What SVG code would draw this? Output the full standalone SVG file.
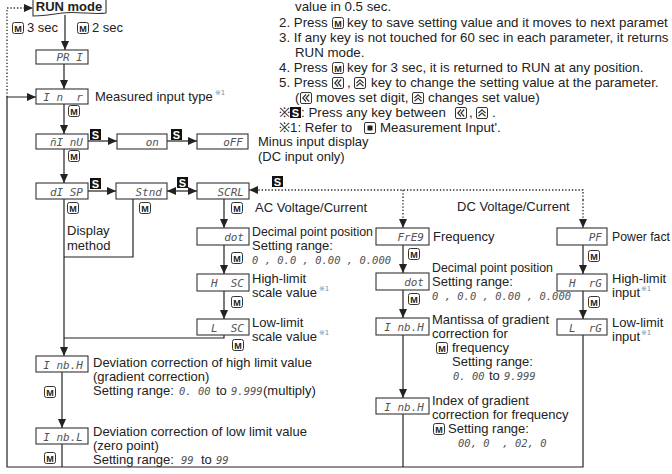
<svg xmlns="http://www.w3.org/2000/svg" xmlns:xlink="http://www.w3.org/1999/xlink" width="672" height="474" viewBox="0 0 672 474">
<style>
.bx{fill:#fff;stroke:#333;stroke-width:1.1}
.sg{font-family:"DejaVu Sans Mono",monospace;font-style:oblique;font-size:11px;fill:#555;text-anchor:end;white-space:pre}
.num{font-family:"DejaVu Sans Mono",monospace;font-style:oblique;font-size:10.5px;fill:#555;white-space:pre}
.t{font-family:"Liberation Sans",Arial,sans-serif;font-size:13px;fill:#222}
.n{font-family:"Liberation Sans",Arial,sans-serif;font-size:13.3px;fill:#222}
.sup{font-family:"DejaVu Sans","Liberation Sans",sans-serif;font-size:7px;fill:#888}
.ln{stroke:#222;stroke-width:1.2;fill:none}
.dt{stroke:#222;stroke-width:1.3;stroke-dasharray:1.3 2;fill:none}
.kt{font-family:"Liberation Sans",Arial,sans-serif;font-weight:bold;font-size:9px;fill:#222;text-anchor:middle}
.st{font-family:"Liberation Sans",Arial,sans-serif;font-weight:bold;font-size:11px;fill:#fff;text-anchor:middle}
</style>
<defs>
<marker id="ar" markerWidth="9" markerHeight="8" refX="9" refY="4" orient="auto-start-reverse" markerUnits="userSpaceOnUse"><path d="M0,0 L9,4 L0,8 Z" fill="#222"/></marker>
<g id="mk"><rect x="0.5" y="0.5" width="11" height="11" rx="2" fill="#fff" stroke="#333"/><text class="kt" x="6" y="9.8">M</text></g>
<g id="sb"><rect width="11" height="11" fill="#111"/><text class="st" x="5.5" y="9.6">S</text></g>
<g id="kl"><rect x="0.5" y="0.5" width="11" height="11" rx="1.5" fill="#fff" stroke="#333"/><path d="M6,2.5 L2.8,6 L6,9.5 M9.2,2.5 L6,6 L9.2,9.5" stroke="#333" stroke-width="1.2" fill="none"/></g>
<g id="ku"><rect x="0.5" y="0.5" width="11" height="11" rx="1.5" fill="#fff" stroke="#333"/><path d="M2.5,6 L6,2.8 L9.5,6 M2.5,9.2 L6,6 L9.5,9.2" stroke="#333" stroke-width="1.2" fill="none"/></g>
<g id="kb"><rect x="0.5" y="0.5" width="11" height="11" rx="1.5" fill="#fff" stroke="#333"/><rect x="3.5" y="3.5" width="5" height="5" fill="#222"/></g>
</defs>

<g id="notes">
<text class="n" x="295" y="11">value in 0.5 sec.</text>
<text class="n" x="279" y="27">2. Press</text><use xlink:href="#mk" x="332" y="17"/><text class="n" x="347" y="27">key to save setting value and it moves to next paramet</text>
<text class="n" x="279" y="42">3. If any key is not touched for 60 sec in each parameter, it returns</text>
<text class="n" x="295" y="57">RUN mode.</text>
<text class="n" x="279" y="72">4. Press</text><use xlink:href="#mk" x="332" y="62"/><text class="n" x="347" y="72">key for 3 sec, it is returned to RUN at any position.</text>
<text class="n" x="279" y="87">5. Press</text><use xlink:href="#kl" x="332" y="77"/><text class="n" x="347" y="87">,</text><use xlink:href="#ku" x="354" y="77"/><text class="n" x="371" y="87">key to change the setting value at the parameter.</text>
<text class="n" x="295" y="102">(</text><use xlink:href="#kl" x="300" y="92"/><text class="n" x="316" y="102">moves set digit,</text><use xlink:href="#ku" x="412" y="92"/><text class="n" x="428" y="102">changes set value)</text>
<text class="n" x="279" y="117">※</text><use xlink:href="#sb" x="290" y="107"/><text class="n" x="301" y="117">: Press any key between</text><use xlink:href="#kl" x="455" y="107"/><text class="n" x="469" y="117">,</text><use xlink:href="#ku" x="476" y="107"/><text class="n" x="492" y="117">.</text>
<text class="n" x="279" y="132">※1: Refer to</text><use xlink:href="#kb" x="364" y="122"/><text class="n" x="380" y="132">Measurement Input'.</text>
</g>

<g id="connectors">
<path class="ln" d="M65,15 V50" marker-end="url(#ar)"/>
<path class="ln" d="M64,64 V89" marker-end="url(#ar)"/>
<path class="ln" d="M64,104 V134" marker-end="url(#ar)"/>
<path class="ln" d="M88,141 H117" marker-end="url(#ar)"/>
<path class="ln" d="M167,141 H197" marker-end="url(#ar)"/>
<path class="ln" d="M64,149 V183" marker-end="url(#ar)"/>
<path class="ln" d="M88,191 H116" marker-end="url(#ar)"/>
<path class="ln" d="M167,191 H197" marker-start="url(#ar)" marker-end="url(#ar)"/>
<path class="ln" d="M64,199 V356" marker-end="url(#ar)"/>
<path class="ln" d="M133,199 V257 H64"/>
<path class="ln" d="M224,199 V228" marker-end="url(#ar)"/>
<path class="ln" d="M224,245 V274" marker-end="url(#ar)"/>
<path class="ln" d="M224,291 V319" marker-end="url(#ar)"/>
<path class="ln" d="M224,335 V338 H64"/>
<path class="dt" d="M583,200 V190 H249" marker-end="url(#ar)"/>
<path class="dt" d="M403,190 V228" marker-end="url(#ar)"/>
<path class="dt" d="M583,200 V228" marker-end="url(#ar)"/>
<path class="ln" d="M403,245 V273" marker-end="url(#ar)"/>
<path class="ln" d="M403,290 V318" marker-end="url(#ar)"/>
<path class="ln" d="M403,335 V398" marker-end="url(#ar)"/>
<path class="ln" d="M403,414 V467"/>
<path class="ln" d="M583,245 V274" marker-end="url(#ar)"/>
<path class="ln" d="M583,291 V319" marker-end="url(#ar)"/>
<path class="ln" d="M583,335 V467 H7 V97 H36" marker-end="url(#ar)"/>
<path class="ln" d="M62,372 V428" marker-end="url(#ar)"/>
<path class="ln" d="M62,444 V467"/>
<path class="dt" d="M7,97 V8 H33" marker-end="url(#ar)"/>
<use xlink:href="#sb" x="90" y="129"/>
<use xlink:href="#sb" x="171" y="129"/>
<use xlink:href="#sb" x="90" y="178"/>
<use xlink:href="#sb" x="177" y="177"/>
<use xlink:href="#sb" x="272" y="176"/>
</g>

<g id="run"><path class="bx" d="M33,-1 H106 V13 C92,15 78,11 62,13 C50,15 42,16 33,16 Z"/><text x="69" y="11" text-anchor="middle" font-family="Liberation Sans,Arial,sans-serif" font-weight="bold" font-size="13" fill="#222">RUN mode</text>
<use xlink:href="#mk" x="12" y="22"/><text class="t" x="27" y="32">3 sec</text>
<use xlink:href="#mk" x="77" y="22"/><text class="t" x="92" y="32">2 sec</text></g>

<g id="pa1"><rect class="bx" x="36" y="50" width="52" height="14"/><text class="sg" x="83" y="61">PR I</text></g>
<g id="inr"><rect class="bx" x="36" y="89" width="52" height="15"/><text class="sg" x="83" y="101">I n  r</text><text class="t" x="95" y="101">Measured input type</text><text class="sup" x="215" y="95">※1</text><use xlink:href="#mk" x="68" y="105"/></g>
<g id="minu"><rect class="bx" x="36" y="134" width="52" height="15"/><text class="sg" x="83" y="146">ñI nU</text><use xlink:href="#mk" x="68" y="150"/></g>
<g id="on"><rect class="bx" x="117" y="134" width="50" height="15"/><text class="sg" x="159" y="146">on</text></g>
<g id="off"><rect class="bx" x="197" y="134" width="51" height="15"/><text class="sg" x="243" y="146">oFF</text><text class="t" x="258" y="146">Minus input display</text><text class="t" x="258" y="161">(DC input only)</text></g>
<g id="disp"><rect class="bx" x="36" y="183" width="52" height="16"/><text class="sg" x="83" y="196">dI SP</text><use xlink:href="#mk" x="67" y="202"/><text class="t" x="67" y="235">Display</text><text class="t" x="67" y="250">method</text></g>
<g id="stnd"><rect class="bx" x="116" y="183" width="51" height="16"/><text class="sg" x="162" y="196">Stnd</text><use xlink:href="#mk" x="139" y="202"/></g>
<g id="scal"><rect class="bx" x="197" y="183" width="52" height="16"/><text class="sg" x="244" y="196">SCRL</text><use xlink:href="#mk" x="231" y="202"/><text class="t" x="255" y="212">AC Voltage/Current</text></g>
<g id="dot-ac"><rect class="bx" x="197" y="228" width="52" height="17"/><text class="sg" x="244" y="241">dot</text><text class="t" x="252" y="236" textLength="121" lengthAdjust="spacingAndGlyphs">Decimal point position</text><text class="t" x="252" y="250">Setting range:</text><use xlink:href="#mk" x="231" y="252"/><text class="num" x="252" y="264">0 , 0.0 , 0.00 , 0.000</text></g>
<g id="hsc"><rect class="bx" x="197" y="274" width="52" height="17"/><text class="sg" x="244" y="287">H  SC</text><text class="t" x="252" y="283">High-limit</text><text class="t" x="252" y="297">scale value</text><text class="sup" x="319" y="291">※1</text><use xlink:href="#mk" x="231" y="296"/></g>
<g id="lsc"><rect class="bx" x="197" y="319" width="52" height="16"/><text class="sg" x="244" y="332">L  SC</text><text class="t" x="252" y="327">Low-limit</text><text class="t" x="252" y="341">scale value</text><text class="sup" x="319" y="335">※1</text><use xlink:href="#mk" x="232" y="339"/></g>
<g id="dc-label"><text class="t" x="457" y="211">DC Voltage/Current</text></g>
<g id="freq"><rect class="bx" x="376" y="228" width="53" height="17"/><text class="sg" x="424" y="241">FrE9</text><text class="t" x="433" y="241">Frequency</text><use xlink:href="#mk" x="408" y="248"/></g>
<g id="dot-dc"><rect class="bx" x="376" y="273" width="53" height="17"/><text class="sg" x="424" y="286">dot</text><text class="t" x="432" y="272" textLength="121" lengthAdjust="spacingAndGlyphs">Decimal point position</text><text class="t" x="432" y="286">Setting range:</text><text class="num" x="432" y="300">0 , 0.0 , 0.00 , 0.000</text><use xlink:href="#mk" x="408" y="293"/></g>
<g id="inbh-dc"><rect class="bx" x="376" y="318" width="53" height="17"/><text class="sg" x="424" y="331">I nb.H</text><text class="t" x="432" y="324">Mantissa of gradient</text><text class="t" x="432" y="338">correction for</text><use xlink:href="#mk" x="436" y="342"/><text class="t" x="452" y="352">frequency</text><text class="t" x="452" y="366">Setting range:</text><text class="num" x="453" y="380">0. 00</text><text class="t" x="489" y="380">to</text><text class="num" x="504" y="380">9.999</text></g>
<g id="index-dc"><rect class="bx" x="376" y="398" width="53" height="16"/><text class="sg" x="424" y="411">I nb.H</text><text class="t" x="432" y="405">Index of gradient</text><text class="t" x="432" y="419">correction for frequency</text><use xlink:href="#mk" x="433" y="423"/><text class="t" x="448" y="433">Setting range:</text><text class="num" x="458" y="447">00, 0  , 02, 0</text></g>
<g id="pf"><rect class="bx" x="557" y="228" width="50" height="17"/><text class="sg" x="602" y="241">PF</text><text class="t" x="612" y="241" textLength="58" lengthAdjust="spacingAndGlyphs">Power fact</text><use xlink:href="#mk" x="588" y="250"/></g>
<g id="hrg"><rect class="bx" x="557" y="274" width="50" height="17"/><text class="sg" x="602" y="287">H  rG</text><text class="t" x="612" y="283">High-limit</text><text class="t" x="612" y="297">input</text><text class="sup" x="641" y="291">※1</text><use xlink:href="#mk" x="588" y="296"/></g>
<g id="lrg"><rect class="bx" x="557" y="319" width="50" height="16"/><text class="sg" x="602" y="332">L  rG</text><text class="t" x="612" y="327">Low-limit</text><text class="t" x="612" y="341">input</text><text class="sup" x="641" y="335">※1</text></g>
<g id="inbh"><rect class="bx" x="36" y="356" width="52" height="16"/><text class="sg" x="83" y="369">I nb.H</text><text class="t" x="93" y="367">Deviation correction of high limit value</text><text class="t" x="93" y="381">(gradient correction)</text><use xlink:href="#mk" x="44" y="386"/><text class="t" x="93" y="395">Setting range:</text><text class="num" x="179" y="395">0. 00</text><text class="t" x="216" y="395">to</text><text class="num" x="231" y="395">9.999</text><text class="t" x="263" y="395">(multiply)</text></g>
<g id="inbl"><rect class="bx" x="36" y="428" width="52" height="16"/><text class="sg" x="83" y="441">I nb.L</text><text class="t" x="93" y="436">Deviation correction of low limit value</text><text class="t" x="93" y="450">(zero point)</text><use xlink:href="#mk" x="44" y="452"/><text class="t" x="93" y="464">Setting range:</text><text class="num" x="181" y="464">99</text><text class="t" x="201" y="464">to</text><text class="num" x="216" y="464">99</text></g>
</svg>
